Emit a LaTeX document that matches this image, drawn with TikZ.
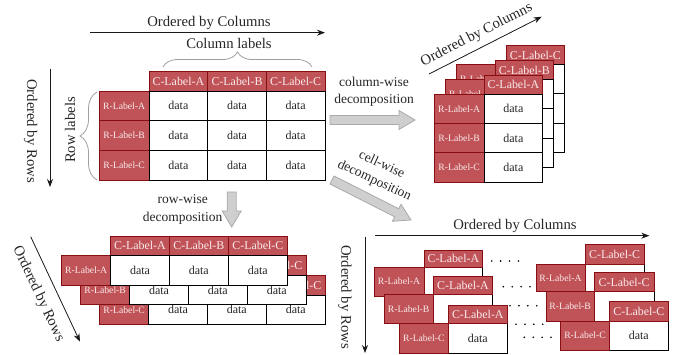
\documentclass[tikz,border=0pt]{standalone}
\usepackage{fontspec}
\setmainfont{Liberation Serif}
\usetikzlibrary{arrows.meta,decorations.pathreplacing,calc}
\definecolor{rfill}{RGB}{191,83,88}
\definecolor{rdark}{RGB}{135,15,20}
\definecolor{rtext}{RGB}{250,235,235}
\definecolor{bfill}{RGB}{207,207,207}
\definecolor{bdraw}{RGB}{170,170,170}
\definecolor{brgray}{RGB}{160,160,160}
\newcommand\cbox[7]{%
  \pgfmathsetmacro\cbw{#5-#3}\pgfmathsetmacro\cbh{#6-#4}%
  \node[#2, minimum width=\cbw pt, minimum height=\cbh pt] (#1) at ({(#3+#5)/2},{(#4+#6)/2}) {#7};}
\newcommand\dotrow[2]{%
  \foreach \di in {0,...,3}{\fill ({#1+8.9*\di},#2) circle[radius=0.9];}}
\newcommand\blockarrow[5]{%
  \coordinate (#1a) at (#2,#3); \coordinate (#1b) at (#4,#5);
  \coordinate (#1h) at ($(#1b)!16pt!(#1a)$);
  \draw[bigarr] ($(#1a)!4.5pt!90:(#1b)$) -- ($(#1h)!4.5pt!-90:(#1a)$) -- ($(#1h)!9.5pt!-90:(#1a)$) -- (#1b) -- ($(#1h)!9.5pt!90:(#1a)$) -- ($(#1h)!4.5pt!90:(#1a)$) -- ($(#1a)!4.5pt!-90:(#1b)$) -- cycle;}
\tikzset{
  rl/.style={draw=rdark, fill=rfill, text=rtext, inner sep=0pt, outer sep=0pt, line width=0.8pt, font=\fontsize{9.7}{11}\selectfont},
  cl/.style={rl, font=\fontsize{11.9}{13}\selectfont},
  dc/.style={draw=black, fill=white, text=black!85, inner sep=0pt, outer sep=0pt, line width=0.8pt, font=\fontsize{12}{14}\selectfont},
  lbl/.style={text=black!85, font=\fontsize{14.7}{17}\selectfont, inner sep=0pt},
  decl/.style={text=black!85, font=\fontsize{13.5}{17.5}\selectfont, align=center, inner sep=0pt},
  ord/.style={-{Stealth[length=8pt,width=6pt]}, line width=0.8pt, black!90},
  bigarr/.style={fill=bfill, draw=bdraw, line width=0.8pt},
  brc/.style={draw=brgray, line width=0.8pt, decorate, decoration={brace, amplitude=#1}},
}
\begin{document}
\begin{tikzpicture}[x=1pt,y=-1pt]
\useasboundingbox (0,0) rectangle (688,355);

% ---------- main table ----------
\node[lbl] (toc) at (209,22.7) {Ordered by Columns};
\coordinate (toca) at (90,32.7); \coordinate (tocb) at (325,32.7);
\draw[ord] (toca) -- (tocb);
\node[lbl, rotate=-90] (tor) at (30.7,131) {Ordered by Rows};
\coordinate (tora) at (50,69); \coordinate (torb) at (50,187);
\draw[ord] (tora) -- (torb);

\cbox{ca}{cl}{149}{71}{207.7}{91}{C-Label-A}
\cbox{cb}{cl}{207.7}{71}{266.3}{91}{C-Label-B}
\cbox{cc}{cl}{266.3}{71}{325}{91}{C-Label-C}
\foreach \r/\ya/\yb/\t in {a/91/120.7/A, b/120.7/150.3/B, c/150.3/180/C}{
  \cbox{r\r}{rl}{99.3}{\ya}{149}{\yb}{R-Label-\t}
  \foreach \cn/\xa/\xb in {a/149/207.7, b/207.7/266.3, c/266.3/325}{
    \cbox{d\r\cn}{dc}{\xa}{\ya}{\xb}{\yb}{data}}
}
\coordinate (bta) at (163,67); \coordinate (btb) at (312,67);
\draw[brc=15pt] (bta) -- (btb);
\node[lbl] (cll) at (229,43) {Column labels};
\coordinate (bla) at (97,180); \coordinate (blb) at (97,92);
\draw[brc=17pt] (bla) -- (blb);
\node[lbl, rotate=90] (rll) at (70,130) {Row labels};

% ---------- decomposition arrows ----------
\blockarrow{cwa}{330}{120}{415}{120}
\node[decl] (cwt) at (374,92) {column-wise\\decomposition};
\blockarrow{rwa}{231.7}{192}{231.7}{227}
\node[decl] (rwt) at (182.7,209.5) {row-wise\\decomposition};
\blockarrow{cea}{332}{180}{411}{220}
\node[decl, rotate=-25] (cet) at (378,173) {cell-wise\\decomposition};

% ---------- column-wise result ----------
\node[lbl, rotate=27] (coc) at (476.7,35) {Ordered by Columns};
\coordinate (coca) at (429,74); \coordinate (cocb) at (541.7,16.7);
\draw[ord] (coca) -- (cocb);
\foreach \k/\hl in {2/C,1/B,0/A}{
  \begin{scope}[shift={({11*\k},{-14.7*\k})}]
    \cbox{cw\k h}{cl}{484}{75}{542.7}{94.3}{C-Label-\hl}
    \foreach \r/\ya/\yb/\t in {a/94.3/123.3/A, b/123.3/152.7/B, c/152.7/182/C}{
      \cbox{cw\k r\r}{rl}{434.3}{\ya}{484}{\yb}{\ifnum\k=0 R-Label-\t\else\if\r a R-Label-\t\fi\fi}
      \cbox{cw\k d\r}{dc}{484}{\ya}{542.7}{\yb}{\ifnum\k=0 data\fi}}
  \end{scope}
}

% ---------- row-wise result ----------
\node[lbl, rotate=-64.8] (ror) at (38.3,294) {Ordered by Rows};
\coordinate (rora) at (30.7,236.7); \coordinate (rorb) at (80,341.7);
\draw[ord] (rora) -- (rorb);
\foreach \k/\rlab in {2/C,1/B,0/A}{
  \begin{scope}[shift={({19*\k},{19.7*\k})}]
    \cbox{rw\k r}{rl}{61.7}{255.7}{110.7}{285}{R-Label-\rlab}
    \foreach \cn/\xa/\xb/\t in {a/110.7/169.3/A, b/169.3/228.3/B, c/228.3/287.3/C}{
      \cbox{rw\k h\cn}{cl}{\xa}{236}{\xb}{255.7}{\ifnum\k=0 C-Label-\t\else\if\cn c C-Label-\t\fi\fi}
      \cbox{rw\k d\cn}{dc}{\xa}{255.7}{\xb}{285}{data}}
  \end{scope}
}

% ---------- cell-wise result ----------
\node[lbl] (ceoc) at (515,225.7) {Ordered by Columns};
\coordinate (ceca) at (375,235.7); \coordinate (cecb) at (649.3,235.7);
\draw[ord] (ceca) -- (cecb);
\node[lbl, rotate=-90] (ceor) at (345,297) {Ordered by Rows};
\coordinate (cera) at (365,236.7); \coordinate (cerb) at (365,353);
\draw[ord] (cera) -- (cerb);

% left group (column A)
\cbox{l1d}{dc}{424}{267.3}{482.7}{296}{}
\cbox{l1h}{cl}{424}{250}{482.7}{267.3}{C-Label-A}
\cbox{l1r}{rl}{374}{267.3}{424}{296}{R-Label-A}
\cbox{l2d}{dc}{433.3}{294.3}{492.7}{323.3}{}
\cbox{l2h}{cl}{433.3}{276.7}{492.7}{294.3}{C-Label-A}
\cbox{l2r}{rl}{384}{294.3}{433.3}{323.3}{R-Label-B}
\cbox{l3d}{dc}{448.3}{323.3}{507.3}{353.3}{data}
\cbox{l3h}{cl}{448.3}{305}{507.3}{323.3}{C-Label-A}
\cbox{l3r}{rl}{399.3}{323.3}{448.3}{353.3}{R-Label-C}

% right group (column C)
\cbox{g1d}{dc}{585}{264}{644.3}{291.7}{}
\cbox{g1h}{cl}{585}{244}{644.3}{264}{C-Label-C}
\cbox{g1r}{rl}{536}{264}{585}{291.7}{R-Label-A}
\cbox{g2d}{dc}{594.3}{291.7}{654}{321}{}
\cbox{g2h}{cl}{594.3}{272.3}{654}{291.7}{C-Label-C}
\cbox{g2r}{rl}{546}{291.7}{594.3}{321}{R-Label-B}
\cbox{g3d}{dc}{609.3}{321}{668.3}{350}{data}
\cbox{g3h}{cl}{609.3}{301}{668.3}{321}{C-Label-C}
\cbox{g3r}{rl}{560.7}{321}{609.3}{350}{R-Label-C}

% dots
\dotrow{491.7}{261}
\dotrow{503.3}{286.7}
\dotrow{510}{305.7}
\dotrow{516}{324.3}
\dotrow{524.3}{337.3}
\end{tikzpicture}
\end{document}
